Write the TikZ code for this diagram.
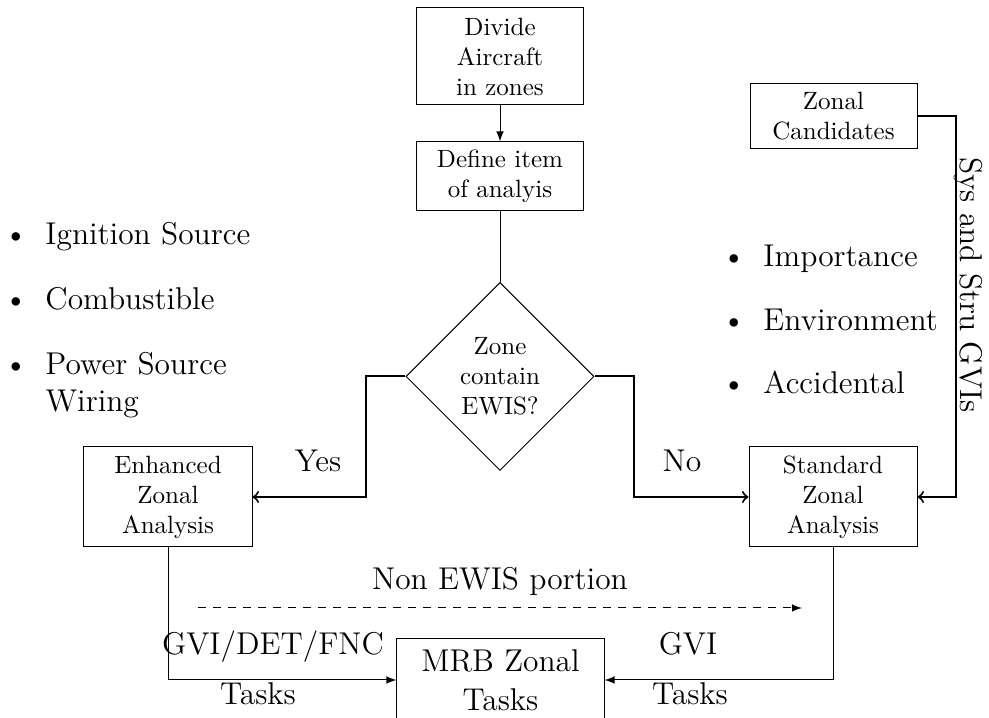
\documentclass[tikz,border=0pt]{standalone}
\usetikzlibrary{shapes.geometric,arrows}
\newcommand{\mybul}{\llap{\makebox[0pt][c]{\textbullet}\hspace{11.8pt}}}
\newcommand{\bigfont}{\fontsize{12.6}{15}\selectfont}
\begin{document}
\begin{tikzpicture}[x=0.4pt,y=-0.4pt,
  boxnode/.style={draw,rectangle,align=center,font=\normalsize,inner sep=1pt,line width=0.4pt},
  decide/.style={draw,diamond,aspect=1,align=center,font=\normalsize,inner sep=1pt,minimum width=75.2pt,minimum height=75.2pt},
  bignode/.style={draw,rectangle,align=center,font=\bigfont,inner sep=1pt},
  lbl/.style={font=\bigfont,inner sep=0pt,anchor=base},
  itemnode/.style={font=\bigfont,inner sep=0pt,anchor=base west},
  thinarrow/.style={-latex,line width=0.4pt},
  thickarrow/.style={->,thick}]
\useasboundingbox (0,0) rectangle (989,718);
% boxes
\node[boxnode,minimum width=66.4pt,minimum height=38.8pt] (div) at (500,56.5) {Divide\\Aircraft\\in zones};
\node[boxnode,minimum width=66.4pt,minimum height=27.6pt] (def) at (500,176.5) {Define item\\of analyis};
\node[decide] (dia) at (500,376.5) {Zone\\contain\\EWIS?};
\node[boxnode,minimum width=66.8pt,minimum height=26pt] (zc) at (833.5,116.5) {Zonal\\Candidates};
\node[boxnode,minimum width=67.2pt,minimum height=40pt] (enh) at (168,497) {Enhanced\\Zonal\\Analysis};
\node[boxnode,minimum width=67.2pt,minimum height=40pt] (std) at (833,497) {Standard\\Zonal\\Analysis};
\node[bignode,minimum width=82.8pt,minimum height=33pt] (mrb) at (500.5,680) {MRB Zonal\\[0.6pt]Tasks};
% connectors
\draw[thinarrow] (div.south) -- (def.north);
\draw[line width=0.4pt] (def.south) -- (dia.north);
\draw[thickarrow] (dia.west) -- ++(-39,0) |- (enh.east);
\draw[thickarrow] (dia.east) -- ++(39,0) |- (std.west);
\draw[thickarrow] (zc.east) -- ++(38,0) |- (std.east);
\draw[thinarrow] (enh.south) |- (mrb.west);
\draw[thinarrow] (std.south) |- (mrb.east);
\coordinate (dstart) at (198,608);
\coordinate (dend) at (802,608);
\draw[thinarrow,dashed] (dstart) -- (dend);
% labels
\node[lbl] (yes) at (318,472) {Yes};
\node[lbl] (no) at (682,472) {No};
\node[lbl] (nonewis) at (500,590) {Non EWIS portion};
\node[lbl] (gvidet) at (273,655) {GVI/DET/FNC};
\node[lbl] (tasksl) at (258,705) {Tasks};
\node[lbl] (gvi) at (688,655) {GVI};
\node[lbl] (tasksr) at (690,705) {Tasks};
\node[lbl,rotate=-90] (sys) at (960,285) {Sys and Stru GVIs};
% bullet lists
\node[itemnode] (i1) at (45,245) {\mybul Ignition Source};
\node[itemnode] (i2) at (45,310) {\mybul Combustible};
\node[itemnode,align=left] (i3) at (45,412) {\mybul Power Source\\Wiring};
\node[itemnode] (r1) at (763,267) {\mybul Importance};
\node[itemnode] (r2) at (763,331) {\mybul Environment};
\node[itemnode] (r3) at (763,394) {\mybul Accidental};
\end{tikzpicture}
\end{document}
